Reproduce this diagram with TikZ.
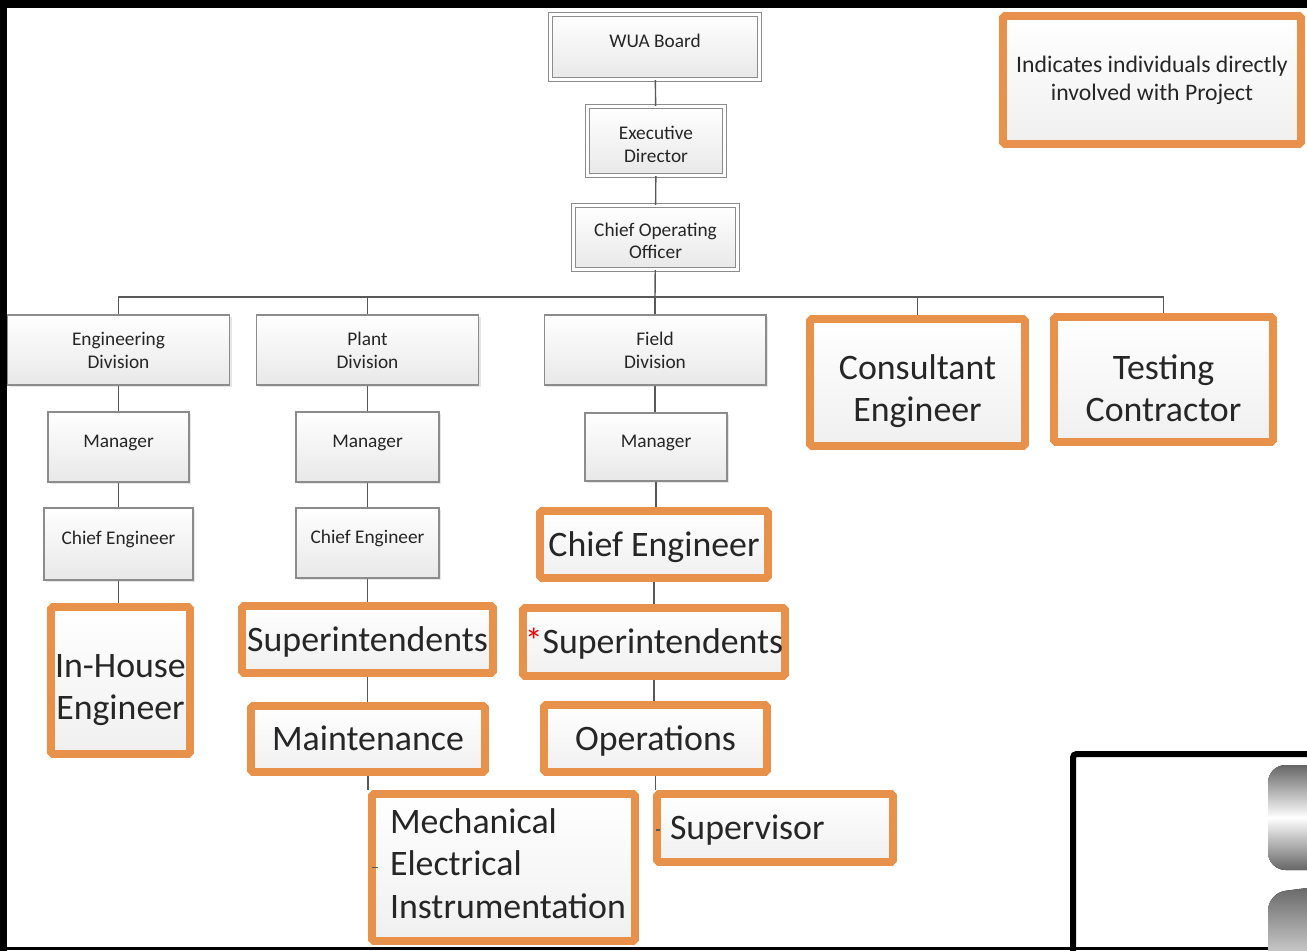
\documentclass[tikz,border=0pt]{standalone}
\usepackage{fontspec}
\setmainfont{Carlito}
\usetikzlibrary{positioning,shadows,calc}
\definecolor{projorange}{HTML}{E8914A}
\definecolor{linkgray}{HTML}{595959}
\definecolor{boxedge}{HTML}{8C8C8C}
\newcommand{\tallline}{\rule{0pt}{24pt}}
\newcommand{\smallline}{\rule{0pt}{11.5pt}}

\begin{document}
\begin{tikzpicture}[x=0.02cm, y=-0.02cm,
    every node/.style={text=black!85, inner sep=0pt},
    smalltext/.style={font=\fontsize{11}{13}\selectfont},
    bigtext/.style={font=\fontsize{20.4}{24.4}\selectfont},
    oneline/.style={text height=3pt, text depth=2.5pt},
    bigline/.style={text height=17.4pt, text depth=4pt},
    orgbox/.style={smalltext, draw=boxedge, line width=0.6pt, top color=white, bottom color=black!9, align=center,
        drop shadow={shadow xshift=1.2pt, shadow yshift=-1.2pt, opacity=0.2}},
    topbox/.style={orgbox, double=white, double distance=1.4pt},
    projbox/.style={bigtext, draw=projorange, line width=4.4pt, top color=white, bottom color=black!6, align=center,
        rounded corners=1pt, drop shadow={shadow xshift=1.2pt, shadow yshift=-1.2pt, opacity=0.15}},
    link/.style={draw=linkgray, line width=0.8pt}]
    \useasboundingbox (0,0) rectangle (1307,950);

    % top of the chart
    \node [topbox, oneline, minimum width=4.18cm, minimum height=1.3cm] (wua) at (655,47) {WUA Board};
    \node [topbox, minimum width=2.74cm, minimum height=1.38cm] (exec) at (656,141) {\smallline Executive\\Director};
    \node [topbox, minimum width=3.28cm, minimum height=1.28cm] (coo) at (655.5,237.5) {\smallline Chief Operating\\Officer};
    \coordinate (bus) at (655,297);

    % divisions
    \node [orgbox, minimum width=4.44cm, minimum height=1.4cm] (engdiv) at (118.5,350) {Engineering\\Division};
    \node [orgbox, minimum width=4.44cm, minimum height=1.4cm] (plantdiv) at (367.5,350) {Plant\\Division};
    \node [orgbox, minimum width=4.44cm, minimum height=1.4cm] (fielddiv) at (655,350) {Field\\Division};
    \node [projbox, minimum width=4.3cm, minimum height=2.54cm] (cons) at (917.5,382.5) {\tallline Consultant\\Engineer};
    \node [projbox, minimum width=4.38cm, minimum height=2.5cm] (test) at (1163.5,379.5) {\tallline Testing\\Contractor};

    % engineering column
    \node [orgbox, oneline, minimum width=2.82cm, minimum height=1.4cm] (engmgr) at (118.5,447) {Manager};
    \node [orgbox, oneline, minimum width=2.98cm, minimum height=1.44cm] (engce) at (118.5,544) {Chief Engineer};
    \node [projbox, minimum width=2.78cm, minimum height=2.94cm] (inhouse) at (120.5,680.5) {\tallline In-House\\Engineer};

    % plant column
    \node [orgbox, oneline, minimum width=2.86cm, minimum height=1.4cm] (plantmgr) at (367.5,447) {Manager};
    \node [orgbox, oneline, minimum width=2.86cm, minimum height=1.4cm] (plantce) at (367.5,543) {Chief Engineer};
    \node [projbox, bigline, minimum width=5.02cm, minimum height=1.34cm] (plantsup) at (367.5,639.5) {Superintendents};
    \node [projbox, bigline, minimum width=4.68cm, minimum height=1.32cm] (maint) at (368,739) {Maintenance};
    \node [projbox, minimum width=5.26cm, minimum height=2.94cm, text width=4.54cm, align=left,
        inner xsep=0.36cm] (mech) at (503.5,867.5) {Mechanical\\Electrical\\Instrumentation\rule[-4.6pt]{0pt}{4.6pt}};

    % field column
    \node [orgbox, oneline, minimum width=2.84cm, minimum height=1.36cm] (fieldmgr) at (656,447) {Manager};
    \node [projbox, bigline, minimum width=4.56cm, minimum height=1.34cm] (fieldce) at (654,544.5) {Chief Engineer};
    \node [projbox, bigline, minimum width=5.24cm, minimum height=1.36cm] (fieldsup) at (654,642)
        {\textcolor{red}{*}Superintendents};
    \node [projbox, bigline, minimum width=4.46cm, minimum height=1.34cm] (ops) at (655.5,738.5) {Operations};
    \node [projbox, bigline, minimum width=4.72cm, minimum height=1.36cm, text width=4.2cm, align=left,
        inner xsep=0.26cm] (sprv) at (775,828) {Supervisor};

    % key
    \node [projbox, font=\fontsize{13.5}{15.9}\selectfont, minimum width=5.96cm, minimum height=2.56cm] (key)
        at (1152,80) {Indicates individuals directly\\involved with Project};

    % connectors
    \draw [link] (wua) -- (exec);
    \draw [link] (exec) -- (coo);
    \draw [link] (coo) -- (bus);
    \foreach \d in {engdiv,plantdiv,fielddiv,cons,test}
        \draw [link] (bus) -| (\d.north);
    \foreach \a/\b in {engdiv/engmgr, engmgr/engce, engce/inhouse,
                       plantdiv/plantmgr, plantmgr/plantce, plantce/plantsup, plantsup/maint, maint/mech,
                       fielddiv/fieldmgr, fieldmgr/fieldce, fieldce/fieldsup, fieldsup/ops, ops/sprv}
        \draw [link] (\a.south) -- (\a.south |- \b.north);
    \draw [link] ($(mech.west)+(4,0)$) -- ++(6,0);
    \draw [link] ($(sprv.west)+(3,2)$) -- ++(4,0);

    % frame and the cut-off panel
    \begin{scope}
        \clip (0,0) rectangle (1307,950);
        \draw [line width=4pt] (3,952) -- (3,4) -- (1310,4);
        \draw [line width=1.2pt] (0,948.5) -- (1310,948.5);
        \draw [line width=3.4pt, rounded corners=2pt] (1073,955) -- (1073,754) -- (1310,754);
        \fill [rounded corners=10pt, top color=black!60, bottom color=black!60, middle color=white]
            (1268,765) rectangle (1330,870);
        \fill [rounded corners=10pt, top color=black!60, bottom color=white]
            (1268,893) -- (1330,885) -- (1330,990) -- (1268,990) -- cycle;
    \end{scope}
\end{tikzpicture}
\end{document}
